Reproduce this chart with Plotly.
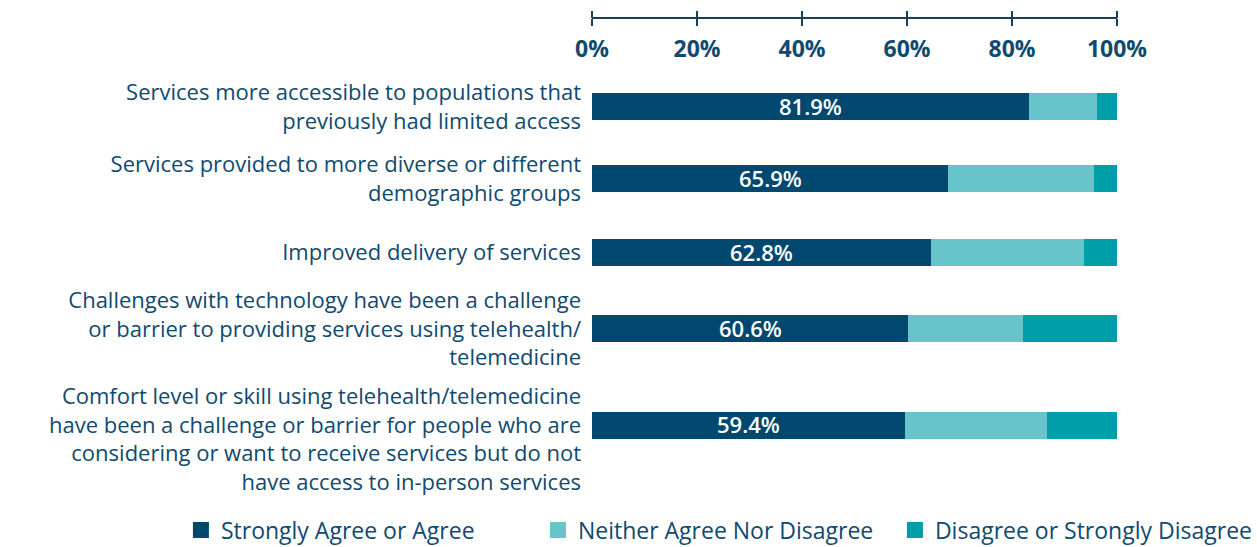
import plotly.graph_objects as go

categories = [
    "Services more accessible to populations that<br>previously had limited access",
    "Services provided to more diverse or different<br>demographic groups",
    "Improved delivery of services",
    "Challenges with technology have been a challenge<br>or barrier to providing services using telehealth/<br>telemedicine",
    "<br>Comfort level or skill using telehealth/telemedicine<br>have been a challenge or barrier for people who are<br>considering or want to receive services but do not<br>have access to in-person services",
]
agree = [83.3, 67.9, 64.6, 60.2, 59.6]
neutral = [12.8, 27.7, 29.1, 21.8, 27.0]
disagree = [3.9, 4.4, 6.3, 18.0, 13.4]
agree_labels = ["81.9%", "65.9%", "62.8%", "60.6%", "59.4%"]
series_names = ["Strongly Agree or Agree", "Neither Agree Nor Disagree", "Disagree or Strongly Disagree"]
tick_vals = [0, 20, 40, 60, 80, 100]
tick_text = ["0%", "20%", "40%", "60%", "80%", "100%"]

# layout: vertical row positions (uneven spacing, as in the reference)
row_y = [0, 0.97, 1.97, 3.0, 4.3]

colors = ["#01486e", "#67c4cb", "#009ea9"]
text_color = "#0f4a6f"
axis_color = "#15405f"
FONT = "Open Sans"

fig = go.Figure()
for name, vals, col in [
    (series_names[0], agree, colors[0]),
    (series_names[1], neutral, colors[1]),
    (series_names[2], disagree, colors[2]),
]:
    fig.add_trace(go.Bar(
        y=row_y, x=vals, orientation="h", name=name,
        marker=dict(color=col, line=dict(width=0)),
        width=0.365, textposition="none",
        showlegend=False, hoverinfo="skip",
    ))
    fig.add_trace(go.Scatter(
        x=[None], y=[None], mode="markers", name=name,
        marker=dict(symbol="square", size=22, color=col),
        showlegend=True,
    ))

# value labels centred in the first segment
for v, r, lab in zip(agree, row_y, agree_labels):
    fig.add_annotation(
        x=v / 2, y=r, text=lab, showarrow=False, yshift=1,
        font=dict(color="white", size=22, family=FONT, weight=600),
    )

fig.add_trace(go.Scatter(x=[None], y=[None], xaxis="x2", showlegend=False, hoverinfo="skip"))
fig.add_trace(go.Scatter(x=[None], y=[None], xaxis="x3", showlegend=False, hoverinfo="skip"))

fig.update_layout(
    barmode="stack",
    width=1257, height=547,
    margin=dict(l=592, r=140, t=18, b=77, autoexpand=False),
    plot_bgcolor="white", paper_bgcolor="white",
    font=dict(family=FONT, color=text_color, size=22),
    xaxis=dict(
        range=[0, 100], visible=False, automargin=False,
    ),
    # axis line, downward ticks and labels
    xaxis2=dict(
        range=[0, 100], overlaying="x", anchor="free", position=1, side="bottom",
        tickvals=tick_vals, ticktext=tick_text,
        ticks="outside", ticklen=7, tickwidth=2, tickcolor=axis_color,
        showline=True, linewidth=2, linecolor=axis_color,
        showgrid=False, zeroline=False,
        ticklabelstandoff=3,
        tickfont=dict(size=23, family=FONT, color=text_color, weight="bold"),
        automargin=False,
    ),
    # upward ticks
    xaxis3=dict(
        range=[0, 100], overlaying="x", anchor="free", position=1, side="top",
        tickvals=tick_vals, ticks="outside", ticklen=7, tickwidth=2, tickcolor=axis_color,
        showline=False, showgrid=False, zeroline=False, showticklabels=False,
        automargin=False,
    ),
    yaxis=dict(
        range=[4.908, -1.203], autorange=False,
        tickvals=row_y, ticktext=categories,
        showgrid=False, zeroline=False, showline=False, ticks="",
        ticklabelstandoff=10,
        tickfont=dict(size=22, family=FONT, color=text_color),
        automargin=False,
    ),
    legend=dict(
        orientation="h",
        x=-0.783, xanchor="left", y=-0.133, yanchor="middle",
        font=dict(size=23, family=FONT, color=text_color),
        traceorder="normal",
        entrywidth=312,
    ),
)

fig.write_html(
    "out.html",
    config={"displayModeBar": False},
    post_script="document.body.style.margin='0px';",
)
